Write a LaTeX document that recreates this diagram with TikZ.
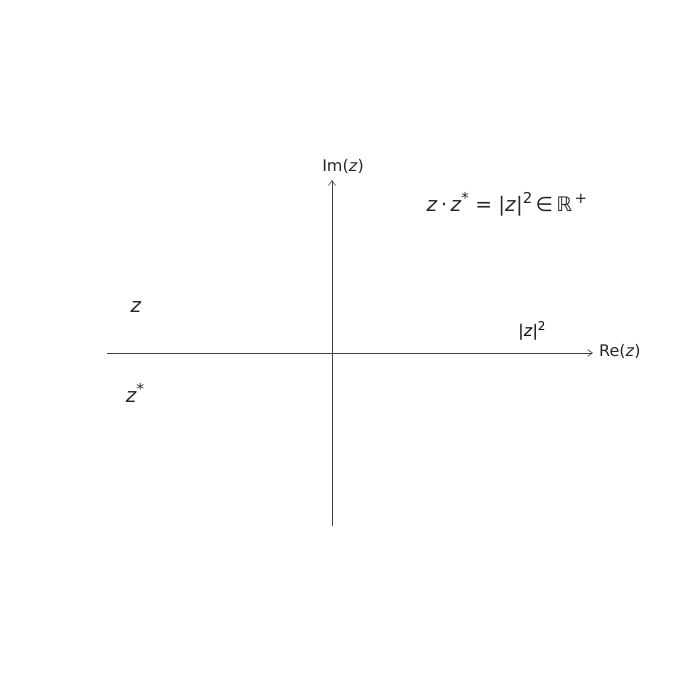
\documentclass[tikz,border=0pt]{standalone}
\usepackage{fontspec}
\setmainfont{DejaVu Sans}
\usetikzlibrary{arrows.meta}
\definecolor{axc}{HTML}{404040}
\definecolor{txc}{HTML}{262626}
\newcommand{\zz}{\textit{z}}
\newcommand{\mysup}[1]{\raisebox{0.42em}{\fontsize{0.75em}{0.75em}\selectfont #1}}
\tikzset{
  axis/.style={draw=axc, line width=0.6pt, -{Straight Barb[length=5pt,width=7pt,line width=0.6pt]}},
  lbl/.style={text=txc, inner sep=0pt, font=\fontsize{16}{19}\selectfont},
  big/.style={text=txc, inner sep=0pt, font=\fontsize{20}{24}\selectfont},
}
\begin{document}
\begin{tikzpicture}[x=1pt,y=-1pt]
\useasboundingbox (0,0) rectangle (700,700);
\coordinate (xl) at (107,353);
\coordinate (xr) at (593,353);
\coordinate (yb) at (332,526);
\coordinate (yt) at (332,180);
\draw[axis] (xl) -- (xr);
\draw[axis] (yb) -- (yt);
\node[lbl, anchor=west] (re) at (599,351) {Re(\zz)};
\node[lbl] (im) at (343,166) {Im(\zz)};
\node[big] (z) at (136,307) {\zz};
\node[big] (zs) at (135,393) {\zz\mysup{*}};
\node[lbl, text=black] (mod) at (532,331) {|\zz|\mysup{2}};
\node[big] (eq) at (507,204) {\zz\,·\,\zz\mysup{*} = |\zz|\mysup{2}\,∈\,ℝ\mysup{\,+}};
\end{tikzpicture}
\end{document}
